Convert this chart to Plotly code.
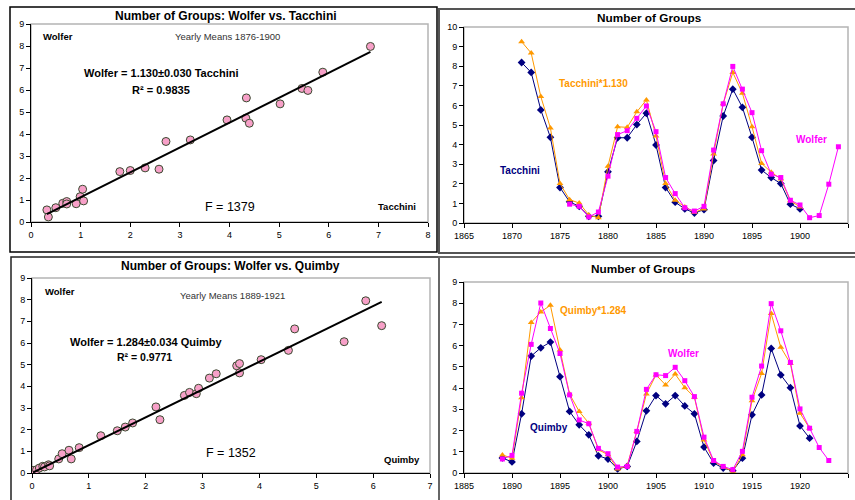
import plotly.graph_objects as go

# ---------------- DATA ----------------
# Scatter 1: Tacchini (x) vs Wolfer (y), yearly means 1876-1900
tac_scatter_x = [0.32, 0.35, 0.50, 0.64, 0.72, 0.72, 0.91, 0.99, 1.04, 1.06,
                 1.79, 2.00, 2.30, 2.58, 2.72, 3.21, 3.95, 4.33, 4.34, 4.40,
                 5.02, 5.46, 5.58, 5.88, 6.84]
tac_scatter_y = [0.55, 0.23, 0.65, 0.85, 0.93, 0.82, 0.83, 1.15, 1.49, 0.96,
                 2.29, 2.34, 2.46, 2.40, 3.66, 3.73, 4.64, 4.72, 5.64, 4.49,
                 5.37, 6.07, 5.98, 6.81, 7.98]
tac_slope = 1.130

# Scatter 2: Quimby (x) vs Wolfer (y), yearly means 1889-1921
qui_scatter_x = [0.02, 0.08, 0.13, 0.19, 0.22, 0.29, 0.31, 0.47, 0.53, 0.65, 0.69,
                 0.83, 1.21, 1.50, 1.64, 1.77, 2.18, 2.25, 2.68, 2.77, 2.89,
                 2.93, 3.12, 3.24, 3.60, 3.65, 3.65, 4.03, 4.51, 4.62, 5.49,
                 5.87, 6.15]
qui_scatter_y = [0.12, 0.15, 0.23, 0.31, 0.28, 0.38, 0.33, 0.65, 0.89, 1.05, 0.65,
                 1.17, 1.72, 1.95, 2.12, 2.31, 3.05, 2.46, 3.58, 3.72, 3.66,
                 3.91, 4.38, 4.58, 4.95, 5.05, 4.62, 5.23, 5.66, 6.65, 6.06,
                 7.95, 6.80]
qui_slope = 1.284

# Time series 1 (1871-1904)
ts1_tac_years = list(range(1871, 1901))
ts1_tacchini = [8.19, 7.68, 5.77, 4.37, 1.81, 1.08, 0.85, 0.34, 0.34, 2.61,
                4.35, 4.35, 5.02, 5.60, 3.98, 1.81, 1.06, 0.72, 0.51, 0.68,
                3.19, 5.46, 6.83, 5.90, 4.37, 2.70, 2.32, 2.01, 0.96, 0.72]
ts1_tacchini_scaled = [9.25, 8.67, 6.45, 4.85, 2.01, 1.19, 1.02, 0.41, 0.27, 2.90,
                       4.91, 4.88, 5.67, 6.28, 4.44, 2.01, 1.16, 0.82, 0.55, 0.72,
                       3.52, 6.08, 7.68, 6.62, 4.91, 3.04, 2.59, 2.25, 1.13, 0.82]
ts1_wol_years = list(range(1876, 1905))
ts1_wolfer = [0.96, 0.85, 0.31, 0.56, 2.39, 4.51, 4.71, 5.34, 5.97, 4.66,
              2.32, 1.50, 0.78, 0.61, 0.85, 3.72, 6.08, 7.99, 6.83, 5.63,
              3.69, 2.49, 2.32, 1.16, 0.92, 0.27, 0.38, 1.98, 3.89]

# Time series 2 (1889-1923)
ts2_qui_years = list(range(1889, 1922))
ts2_quimby = [0.71, 0.52, 2.79, 5.51, 5.90, 6.17, 4.54, 2.90, 2.27, 1.80,
              0.81, 0.66, 0.19, 0.31, 1.49, 2.93, 3.65, 3.26, 3.65, 3.16,
              2.79, 1.22, 0.47, 0.23, 0.11, 0.70, 2.74, 3.68, 5.87, 4.62,
              4.02, 2.22, 1.64]
ts2_quimby_scaled = [0.85, 0.70, 3.55, 7.09, 7.59, 7.90, 5.79, 3.72, 2.90, 2.35,
                     1.10, 0.86, 0.19, 0.34, 1.96, 3.72, 4.62, 4.15, 4.66, 4.02,
                     3.57, 1.56, 0.55, 0.28, 0.08, 0.86, 3.41, 4.69, 7.51, 5.92,
                     5.16, 2.82, 2.11]
ts2_wol_years = list(range(1889, 1924))
ts2_wolfer = [0.66, 0.83, 3.76, 6.06, 8.01, 6.81, 5.63, 3.68, 2.50, 2.32,
              1.16, 0.91, 0.28, 0.31, 1.96, 3.94, 4.63, 4.59, 4.98, 4.35,
              3.60, 1.69, 0.59, 0.31, 0.16, 1.02, 3.57, 5.04, 7.98, 6.70,
              5.21, 3.02, 2.11, 1.20, 0.59]

# ---------------- STYLE ----------------
W, H = 855, 500
FONT = "Liberation Sans, Arial, sans-serif"
NAVY = "#000080"
ORANGE = "#ff9900"
MAGENTA = "#ff00ff"
PINK = "#f7a0c8"


def px(x):
    return x / W


def py(y):
    return 1 - y / H


fig = go.Figure()

# ---- scatter panels ----
def add_scatter(xs, ys, slope, xa, ya):
    fig.add_trace(go.Scatter(
        x=xs, y=ys, mode="markers", xaxis=xa, yaxis=ya, showlegend=False,
        marker=dict(symbol="circle", size=8, color=PINK,
                    line=dict(color="#3a4a30", width=1)),
    ))
    lo, hi = min(xs), max(xs)
    fig.add_trace(go.Scatter(
        x=[lo, hi], y=[slope * lo, slope * hi], mode="lines",
        xaxis=xa, yaxis=ya, showlegend=False,
        line=dict(color="black", width=2),
    ))


add_scatter(tac_scatter_x, tac_scatter_y, tac_slope, "x", "y")
add_scatter(qui_scatter_x, qui_scatter_y, qui_slope, "x3", "y3")


def add_series(xs, ys, color, symbol, size, xa, ya):
    fig.add_trace(go.Scatter(
        x=xs, y=ys, mode="lines+markers", xaxis=xa, yaxis=ya, showlegend=False,
        line=dict(color=color, width=1),
        marker=dict(symbol=symbol, size=size, color=color),
    ))


add_series(ts1_tac_years, ts1_tacchini, NAVY, "diamond", 6, "x2", "y2")
add_series(ts1_tac_years, ts1_tacchini_scaled, ORANGE, "triangle-up", 6, "x2", "y2")
add_series(ts1_wol_years, ts1_wolfer, MAGENTA, "square", 5, "x2", "y2")

add_series(ts2_qui_years, ts2_quimby, NAVY, "diamond", 6, "x4", "y4")
add_series(ts2_qui_years, ts2_quimby_scaled, ORANGE, "triangle-up", 6, "x4", "y4")
add_series(ts2_wol_years, ts2_wolfer, MAGENTA, "square", 5, "x4", "y4")

axis_common = dict(showline=True, linecolor="black", linewidth=1, mirror=False,
                   ticks="outside", ticklen=4, tickcolor="black", showgrid=False,
                   zeroline=False, automargin=False,
                   tickfont=dict(family=FONT, size=9, color="black"))

fig.update_layout(
    width=W, height=H, margin=dict(l=0, r=0, t=0, b=0, autoexpand=False),
    paper_bgcolor="white", plot_bgcolor="white",
    font=dict(family=FONT, color="black"),
    xaxis=dict(domain=[px(31), px(428)], range=[0, 8], dtick=1, anchor="y", **axis_common),
    yaxis=dict(domain=[py(222), py(24)], range=[0, 9], dtick=1, anchor="x", **axis_common),
    xaxis2=dict(domain=[px(464), px(848)], range=[1865, 1905], dtick=5, anchor="y2", **axis_common),
    yaxis2=dict(domain=[py(223), py(27)], range=[0, 10], dtick=1, anchor="x2", **axis_common),
    xaxis3=dict(domain=[px(32), px(430)], range=[0, 7], dtick=1, anchor="y3", **axis_common),
    yaxis3=dict(domain=[py(473), py(278)], range=[0, 9], dtick=1, anchor="x3", **axis_common),
    xaxis4=dict(domain=[px(464), px(848)], range=[1885, 1925], dtick=5, anchor="y4", **axis_common),
    yaxis4=dict(domain=[py(473), py(282)], range=[0, 9], dtick=1, anchor="x4", **axis_common),
)

shapes = []
# plot area borders (gray)
for xa, ya in [("x", "y"), ("x2", "y2"), ("x3", "y3"), ("x4", "y4")]:
    shapes.append(dict(type="rect", xref=f"{xa} domain", yref=f"{ya} domain",
                       x0=0, x1=1, y0=0, y1=1, layer="below",
                       line=dict(color="#b4b4b4", width=1.5)))
# panel frames
def frame(x0, y0, x1, y1, color, width):
    shapes.append(dict(type="rect", xref="paper", yref="paper",
                       x0=px(x0), x1=px(x1), y0=py(y1), y1=py(y0),
                       line=dict(color=color, width=width)))

frame(10, 7, 437, 252, "black", 1.5)
frame(439, 9, 862, 253, "#555555", 2)
frame(11, 257, 439, 510, "#222222", 1.5)
frame(439, 257, 862, 510, "#666666", 2)
fig.update_layout(shapes=shapes)

ann = []
def text(x, y, s, size, color="black", bold=False, anchor="left"):
    if bold:
        s = f"<b>{s}</b>"
    ann.append(dict(x=px(x), y=py(y), xref="paper", yref="paper", text=s,
                    showarrow=False, xanchor=anchor, yanchor="middle",
                    font=dict(family=FONT, size=size, color=color)))

# top-left
text(226, 16, "Number of Groups: Wolfer vs. Tacchini", 12, bold=True, anchor="center")
text(41, 37, "Wolfer", 9.5, bold=True)
text(173, 37, "Yearly Means 1876-1900", 9.5, color="#333333")
text(82, 73, "Wolfer = 1.130±0.030 Tacchini", 11, bold=True)
text(130, 90, "R² = 0.9835", 11, bold=True)
text(203, 207, "F = 1379", 12.5)
text(376, 207, "Tacchini", 9.5, bold=True)

# top-right
text(649, 18, "Number of Groups", 11.8, bold=True, anchor="center")
text(557, 83, "Tacchini*1.130", 10, color=ORANGE, bold=True)
text(794, 139, "Wolfer", 10, color=MAGENTA, bold=True)
text(498, 170, "Tacchini", 10, color=NAVY, bold=True)

# bottom-left
text(230, 266, "Number of Groups: Wolfer vs. Quimby", 12, bold=True, anchor="center")
text(43, 291, "Wolfer", 9.5, bold=True)
text(178, 295, "Yearly Means 1889-1921", 9.5, color="#333333")
text(68, 342, "Wolfer = 1.284±0.034 Quimby", 11, bold=True)
text(115, 357, "R² = 0.9771", 10.5, bold=True)
text(204, 453, "F = 1352", 12.5)
text(382, 459, "Quimby", 9.5, bold=True)

# bottom-right
text(643, 269, "Number of Groups", 11.8, bold=True, anchor="center")
text(558, 310, "Quimby*1.284", 10, color=ORANGE, bold=True)
text(666, 353, "Wolfer", 10, color=MAGENTA, bold=True)
text(528, 427, "Quimby", 10, color=NAVY, bold=True)

fig.update_layout(annotations=ann)

fig.write_html("out.html")
